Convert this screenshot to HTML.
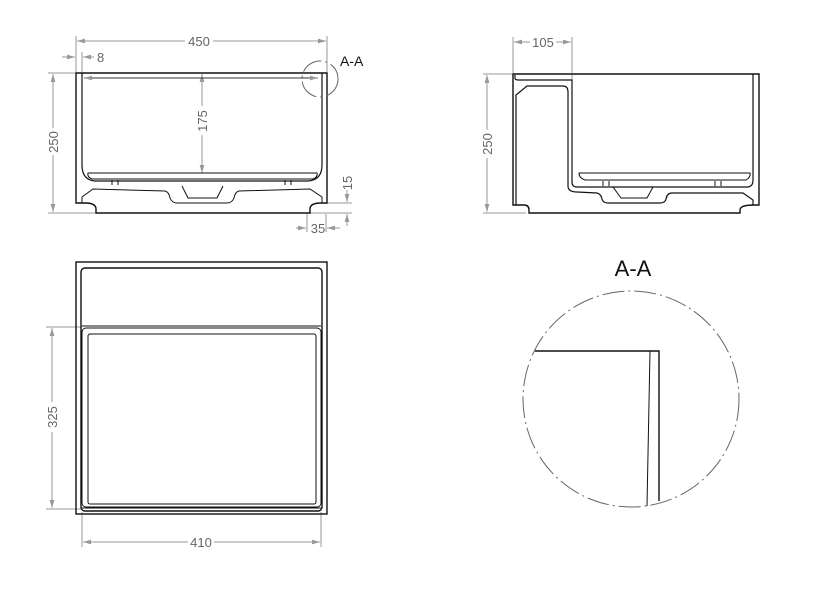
<!DOCTYPE html>
<html><head><style>
body{margin:0;background:#fff;}
svg{display:block;}
text{font-family:"Liberation Sans",sans-serif;}
</style></head><body>
<svg width="816" height="604" viewBox="0 0 816 604" xmlns="http://www.w3.org/2000/svg">
<defs>
<marker id="a" viewBox="0 0 10 6" refX="10" refY="3" markerWidth="8" markerHeight="5" orient="auto-start-reverse"><path d="M0,0L10,3L0,6z" fill="#999"/></marker>
</defs>
<g stroke="#999" stroke-width="1" fill="none">
<line x1="76" y1="36" x2="76" y2="72"/><line x1="327" y1="36" x2="327" y2="72"/>
<line x1="77" y1="41" x2="185" y2="41" marker-start="url(#a)"/><line x1="213" y1="41" x2="326" y2="41" marker-end="url(#a)"/>
<line x1="82" y1="52" x2="82" y2="72"/>
<line x1="62" y1="57" x2="75" y2="57" marker-end="url(#a)"/><line x1="94" y1="57" x2="83" y2="57" marker-end="url(#a)"/>
<line x1="48" y1="73" x2="76" y2="73"/><line x1="48" y1="213" x2="352" y2="213"/>
<line x1="53" y1="74" x2="53" y2="128" marker-start="url(#a)"/><line x1="53" y1="155" x2="53" y2="212" marker-end="url(#a)"/>
<line x1="202" y1="74" x2="202" y2="106" marker-start="url(#a)"/><line x1="202" y1="135" x2="202" y2="173" marker-end="url(#a)"/>
<line x1="84" y1="78" x2="318" y2="78" stroke="#333" marker-start="url(#a)" marker-end="url(#a)"/>
<line x1="327" y1="203" x2="352" y2="203"/>
<line x1="347" y1="190" x2="347" y2="202" marker-end="url(#a)"/><line x1="347" y1="226" x2="347" y2="214" marker-end="url(#a)"/>
<line x1="307" y1="214" x2="307" y2="232"/><line x1="326" y1="214" x2="326" y2="232"/>
<line x1="296" y1="228" x2="306" y2="228" marker-end="url(#a)"/><line x1="340" y1="228" x2="327" y2="228" marker-end="url(#a)"/>
<line x1="513" y1="37" x2="513" y2="73"/><line x1="572" y1="37" x2="572" y2="80"/>
<line x1="514" y1="42" x2="530" y2="42" marker-start="url(#a)"/><line x1="556" y1="42" x2="571" y2="42" marker-end="url(#a)"/>
<line x1="483" y1="74" x2="513" y2="74"/><line x1="483" y1="213" x2="526" y2="213"/>
<line x1="487" y1="75" x2="487" y2="130" marker-start="url(#a)"/><line x1="487" y1="158" x2="487" y2="212" marker-end="url(#a)"/>
<line x1="46" y1="327" x2="82" y2="327"/><line x1="46" y1="509" x2="82" y2="509"/>
<line x1="52" y1="328" x2="52" y2="402" marker-start="url(#a)"/><line x1="52" y1="432" x2="52" y2="508" marker-end="url(#a)"/>
<line x1="82" y1="512" x2="82" y2="547"/><line x1="321" y1="512" x2="321" y2="547"/>
<line x1="83" y1="542" x2="188" y2="542" marker-start="url(#a)"/><line x1="214" y1="542" x2="320" y2="542" marker-end="url(#a)"/>
</g>
<g fill="#666" font-size="13">
<text x="199" y="46" text-anchor="middle">450</text>
<text x="97" y="62">8</text>
<text x="58" y="142" transform="rotate(-90 58 142)" text-anchor="middle">250</text>
<text x="207" y="121" transform="rotate(-90 207 121)" text-anchor="middle">175</text>
<text x="352" y="183" transform="rotate(-90 352 183)" text-anchor="middle">15</text>
<text x="318" y="233" text-anchor="middle">35</text>
<text x="543" y="47" text-anchor="middle">105</text>
<text x="492" y="144" transform="rotate(-90 492 144)" text-anchor="middle">250</text>
<text x="57" y="417" transform="rotate(-90 57 417)" text-anchor="middle">325</text>
<text x="201" y="547" text-anchor="middle">410</text>
</g>
<text x="340" y="66" font-size="14" fill="#111">A-A</text>
<text x="633" y="276" font-size="22" fill="#111" text-anchor="middle">A-A</text>
<g stroke="#111" stroke-width="1.4" fill="none">
<!-- front view -->
<path d="M76,73H327V203H321Q310,203 310,209V213H96V209Q96,203 85,203H76Z"/>
<path d="M82,73V165Q82,180 95,181H308Q322,180 322,165V73" stroke-width="1.2"/>
<path d="M88,173H317Q318,177 313,179H92Q87,177 88,173Z" stroke-width="1"/>
<path d="M82,203V197L93,189L165,191Q169,192 170,198Q172,203 177,203H227Q232,203 234,198Q235,192 239,191L310,189L322,197V203" stroke-width="1"/>
<path d="M182,186L188,198H217L223,186" stroke-width="1"/>
<path d="M112,180V185M118,180V185M285,180V185M291,180V185" stroke-width="1"/>
<!-- side view -->
<path d="M513,74H759V205H754Q740,205 740,210V213H529V210Q529,205 524,205H513Z"/>
<path d="M515,75V78Q515,80 518,80H572V182Q572,187 577,187H747Q753,187 753,180V74" stroke-width="1.2"/>
<path d="M516,205V95L527,86H563Q568,86 568,92V186Q568,192 577,192L597,193Q601,194 602,199Q603,203 608,203H660Q665,203 666,199Q667,193 672,193H743L753,200V205" stroke-width="1.2"/>
<path d="M579,173H750Q751,177 746,180H585Q579,178 579,173Z" stroke-width="1"/>
<path d="M613,187L621,198H647L653,187" stroke-width="1"/>
<path d="M603,181V186M609,181V186M715,181V186M721,181V186" stroke-width="1"/>
<!-- top view -->
<rect x="76" y="262" width="251" height="252"/>
<rect x="81" y="268" width="241" height="243" rx="4"/>
<rect x="82" y="328" width="239" height="179" rx="4" stroke-width="1"/>
<rect x="88" y="334" width="228" height="170" rx="2" stroke-width="1"/>
<line x1="82" y1="326" x2="321" y2="326" stroke-width="1"/>
<line x1="82" y1="508" x2="321" y2="508" stroke-width="1"/>
<!-- detail -->
<path d="M535,351H659V501"/>
<path d="M650,351L647,506" stroke-width="1"/>
</g>
<g fill="none" stroke="#666" stroke-width="1" stroke-dasharray="22,4,2,4">
<circle cx="320" cy="79" r="18"/>
<circle cx="631" cy="399" r="108"/>
</g>
</svg>
</body></html>
